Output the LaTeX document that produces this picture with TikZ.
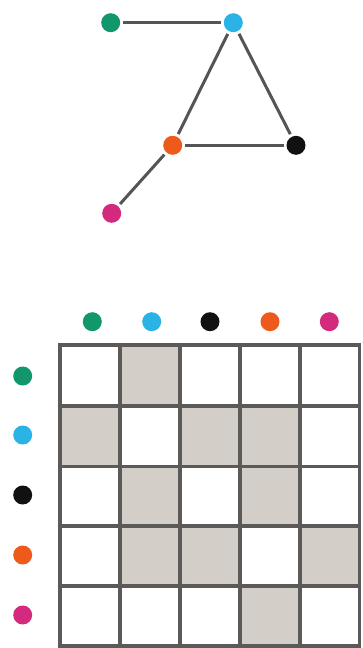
\documentclass[tikz,border=0pt]{standalone}
\definecolor{cgreen}{HTML}{12966C}
\definecolor{cblue}{HTML}{2BB3E6}
\definecolor{cblack}{HTML}{111111}
\definecolor{corange}{HTML}{EE5A1C}
\definecolor{cmag}{HTML}{D42A7E}
\definecolor{edgegray}{HTML}{555555}
\definecolor{gridgray}{HTML}{5C5A58}
\definecolor{cellgray}{HTML}{D3CFC8}
\begin{document}
\begin{tikzpicture}[x=1pt,y=-1pt,
  dot/.style={circle,inner sep=0pt,minimum size=19pt,outer sep=3pt},
  link/.style={draw=edgegray,line width=3pt},
  cell/.style={fill=cellgray,draw=none},
  gridline/.style={draw=gridgray,line width=3.2pt}]
\useasboundingbox (0,0) rectangle (362,648);
% graph
\node[dot,fill=cgreen] (g) at (110.7,22.7) {};
\node[dot,fill=cblue] (b) at (233.3,22.7) {};
\node[dot,fill=corange] (o) at (172.7,145.3) {};
\node[dot,fill=cblack] (k) at (296,145.3) {};
\node[dot,fill=cmag] (m) at (111.7,213.3) {};
\draw[link] (g) -- (b);
\draw[link] (b) -- (o);
\draw[link] (b) -- (k);
\draw[link] (o) -- (k);
\draw[link] (o) -- (m);
% matrix column headers
\node[dot,fill=cgreen] (c1) at (92.3,321.7) {};
\node[dot,fill=cblue] (c2) at (151.7,321.7) {};
\node[dot,fill=cblack] (c3) at (210,321.7) {};
\node[dot,fill=corange] (c4) at (270,321.7) {};
\node[dot,fill=cmag] (c5) at (329.3,321.7) {};
% row headers
\node[dot,fill=cgreen] (r1) at (22.7,376) {};
\node[dot,fill=cblue] (r2) at (22.7,435) {};
\node[dot,fill=cblack] (r3) at (22.7,495) {};
\node[dot,fill=corange] (r4) at (22.7,555) {};
\node[dot,fill=cmag] (r5) at (22.7,615) {};
% shaded cells
\fill[cell] (120,345) rectangle (180,406);
\fill[cell] (60,406) rectangle (120,466.7);
\fill[cell] (180,406) rectangle (300,466.7);
\fill[cell] (120,466.7) rectangle (180,526);
\fill[cell] (240,466.7) rectangle (300,526);
\fill[cell] (120,526) rectangle (240,586);
\fill[cell] (300,526) rectangle (359.3,586);
\fill[cell] (240,586) rectangle (300,646);
% grid
\foreach \xx in {60,120,180,240,300,359.3}
  \draw[gridline] (\xx,345) -- (\xx,646);
\foreach \yy in {345,406,466.7,526,586,646}
  \draw[gridline] (60,\yy) -- (359.3,\yy);
\draw[gridline,line join=miter] (60,345) rectangle (359.3,646);
\end{tikzpicture}
\end{document}
